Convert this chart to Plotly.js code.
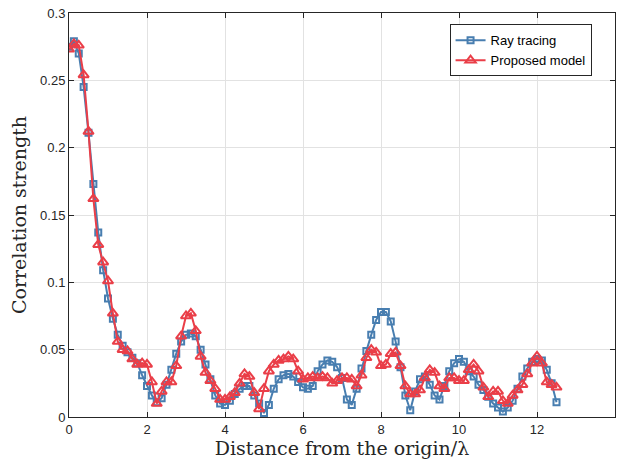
<!DOCTYPE html>
<html>
<head>
<meta charset="utf-8">
<script src="https://cdn.plot.ly/plotly-3.0.1.min.js"></script>
<style>
  html, body { margin: 0; padding: 0; background: #ffffff; }
  #chart { width: 621px; height: 468px; }
</style>
</head>
<body>
<div id="chart"></div>
<script>
// Sample positions along the line, in wavelengths
const distance = [
  0, 0.125, 0.25, 0.375, 0.5, 0.625, 0.75, 0.875, 1, 1.125,
  1.25, 1.375, 1.5, 1.625, 1.75, 1.875, 2, 2.125, 2.25, 2.375,
  2.5, 2.625, 2.75, 2.875, 3, 3.125, 3.25, 3.375, 3.5, 3.625,
  3.75, 3.875, 4, 4.125, 4.25, 4.375, 4.5, 4.625, 4.75, 4.875,
  5, 5.125, 5.25, 5.375, 5.5, 5.625, 5.75, 5.875, 6, 6.125,
  6.25, 6.375, 6.5, 6.625, 6.75, 6.875, 7, 7.125, 7.25, 7.375,
  7.5, 7.625, 7.75, 7.875, 8, 8.125, 8.25, 8.375, 8.5, 8.625,
  8.75, 8.875, 9, 9.125, 9.25, 9.375, 9.5, 9.625, 9.75, 9.875,
  10, 10.125, 10.25, 10.375, 10.5, 10.625, 10.75, 10.875, 11, 11.125,
  11.25, 11.375, 11.5, 11.625, 11.75, 11.875, 12, 12.125, 12.25, 12.375,
  12.5
];

// Correlation from ray tracing
const rayTracing = [
  0.275, 0.279, 0.270, 0.245, 0.211, 0.173, 0.137, 0.109, 0.088, 0.073,
  0.061, 0.053, 0.048, 0.044, 0.040, 0.031, 0.023, 0.016, 0.011, 0.014,
  0.024, 0.035, 0.047, 0.056, 0.061, 0.062, 0.060, 0.050, 0.039, 0.028,
  0.016, 0.010, 0.009, 0.012, 0.017, 0.021, 0.023, 0.023, 0.016, 0.010,
  0.003, 0.009, 0.021, 0.028, 0.031, 0.032, 0.030, 0.026, 0.022, 0.021,
  0.023, 0.034, 0.039, 0.042, 0.041, 0.037, 0.029, 0.013, 0.009, 0.021,
  0.036, 0.049, 0.061, 0.072, 0.078, 0.078, 0.071, 0.056, 0.037, 0.016,
  0.005, 0.019, 0.028, 0.030, 0.024, 0.016, 0.013, 0.023, 0.034, 0.040,
  0.043, 0.041, 0.034, 0.030, 0.024, 0.020, 0.015, 0.010, 0.007, 0.004,
  0.007, 0.012, 0.021, 0.030, 0.036, 0.041, 0.043, 0.042, 0.035, 0.025,
  0.011
];

// Correlation from the proposed model
const proposedModel = [
  0.273, 0.277, 0.276, 0.254, 0.212, 0.162, 0.128, 0.115, 0.101, 0.077,
  0.056, 0.050, 0.049, 0.043, 0.039, 0.040, 0.039, 0.026, 0.010, 0.019,
  0.026, 0.026, 0.038, 0.060, 0.075, 0.077, 0.064, 0.045, 0.033, 0.027,
  0.021, 0.013, 0.013, 0.015, 0.018, 0.025, 0.032, 0.030, 0.018, 0.006,
  0.021, 0.034, 0.039, 0.042, 0.043, 0.045, 0.043, 0.034, 0.028, 0.029,
  0.030, 0.029, 0.030, 0.029, 0.025, 0.027, 0.029, 0.029, 0.028, 0.023,
  0.031, 0.044, 0.050, 0.048, 0.038, 0.039, 0.047, 0.048, 0.038, 0.023,
  0.017, 0.017, 0.020, 0.029, 0.035, 0.033, 0.023, 0.021, 0.029, 0.029,
  0.027, 0.027, 0.035, 0.039, 0.034, 0.022, 0.015, 0.019, 0.019, 0.012,
  0.010, 0.016, 0.020, 0.024, 0.032, 0.040, 0.045, 0.040, 0.026, 0.024,
  0.022
];

const seriesNames = ['Ray tracing', 'Proposed model'];
const xTicks = [0, 2, 4, 6, 8, 10, 12, 14];
const yTicks = [0, 0.05, 0.1, 0.15, 0.2, 0.25, 0.3];

const blue = 'rgb(72,126,176)';
const red = 'rgb(234,62,72)';

const traces = [
  {
    x: distance, y: rayTracing, name: seriesNames[0],
    type: 'scatter', mode: 'lines+markers',
    line: { color: blue, width: 2 },
    marker: { symbol: 'square-open', size: 6, color: blue, line: { width: 2, color: blue } }
  },
  {
    x: distance, y: proposedModel, name: seriesNames[1],
    type: 'scatter', mode: 'lines+markers',
    line: { color: red, width: 2 },
    marker: { symbol: 'triangle-up-open', size: 9, color: red, line: { width: 2, color: red } }
  }
];

const axisCommon = {
  showline: true, mirror: 'ticks', linecolor: '#262626', linewidth: 1,
  ticks: 'inside', ticklen: 5, tickcolor: '#262626', tickwidth: 1,
  showgrid: true, gridcolor: 'rgb(226,226,226)', gridwidth: 1,
  zeroline: false,
  tickfont: { family: 'Liberation Sans, Arial, sans-serif', size: 13, color: '#262626' }
};

const titleFont = { family: 'DejaVu Serif, serif', size: 19, color: '#262626' };

const layout = {
  width: 621, height: 468,
  margin: { l: 69, r: 6, t: 13, b: 51 },
  paper_bgcolor: '#ffffff', plot_bgcolor: '#ffffff',
  showlegend: true,
  legend: {
    x: 0.697, y: 0.972, xanchor: 'left', yanchor: 'top',
    bgcolor: '#ffffff', bordercolor: '#262626', borderwidth: 1,
    font: { family: 'Liberation Sans, Arial, sans-serif', size: 13, color: '#000000' },
    tracegroupgap: 0
  },
  xaxis: Object.assign({}, axisCommon, {
    range: [0, 14], tickvals: xTicks,
    title: { text: 'Distance from the origin/\u03bb', font: titleFont, standoff: 6 }
  }),
  yaxis: Object.assign({}, axisCommon, {
    range: [0, 0.3], tickvals: yTicks,
    title: { text: 'Correlation strength', font: titleFont, standoff: 8 }
  })
};

Plotly.newPlot('chart', traces, layout, { displayModeBar: false, staticPlot: true });
</script>
</body>
</html>
